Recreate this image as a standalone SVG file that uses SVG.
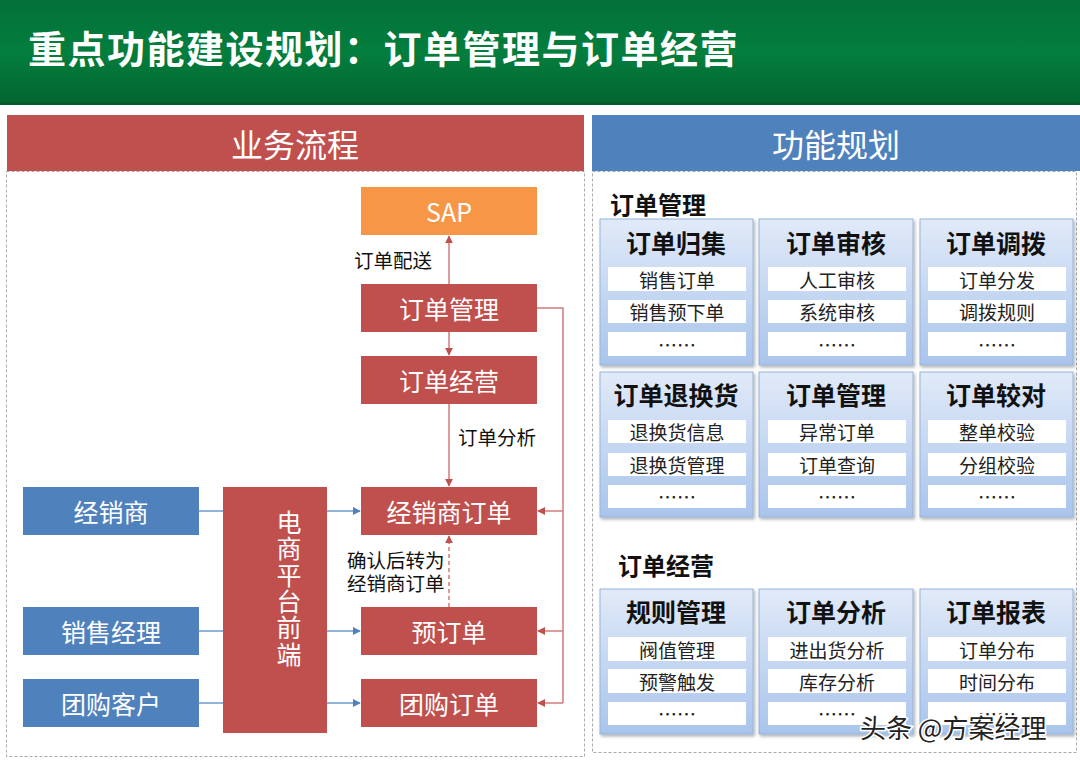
<svg xmlns="http://www.w3.org/2000/svg" width="1080" height="764" viewBox="0 0 1080 764">
<defs>
<linearGradient id="hdr" x1="0" y1="0" x2="0" y2="1">
<stop offset="0" stop-color="#04703A"/>
<stop offset="0.5" stop-color="#037E3D"/>
<stop offset="1" stop-color="#036531"/>
</linearGradient>
<linearGradient id="card" x1="0" y1="0" x2="0" y2="1">
<stop offset="0" stop-color="#E1EAF8"/>
<stop offset="1" stop-color="#A9C4EC"/>
</linearGradient>
<filter id="sh" x="-10%" y="-10%" width="125%" height="125%">
<feDropShadow dx="1.5" dy="2" stdDeviation="1.5" flood-color="#000" flood-opacity="0.3"/>
</filter>
<marker id="ar" viewBox="0 0 10 10" refX="9" refY="5" markerWidth="8" markerHeight="8" orient="auto" markerUnits="userSpaceOnUse">
<path d="M0,0 L10,5 L0,10 z" fill="#C0504D"/>
</marker>
<marker id="ab" viewBox="0 0 10 10" refX="9" refY="5" markerWidth="8" markerHeight="8" orient="auto" markerUnits="userSpaceOnUse">
<path d="M0,0 L10,5 L0,10 z" fill="#4F81BD"/>
</marker>
</defs>
<style>
text{font-family:"Noto Sans CJK SC","Liberation Sans",sans-serif;}
.red{fill:#C0504D;}
.blue{fill:#4F81BD;}
.wt{fill:#fff;font-size:25px;text-anchor:middle;dominant-baseline:central;}
.hd{fill:#fff;font-size:32px;text-anchor:middle;dominant-baseline:central;}
.vt{fill:#fff;font-size:25px;text-anchor:middle;writing-mode:vertical-rl;letter-spacing:1.4px;}
.lbl{fill:#111;font-size:19.5px;}
.rl{stroke:#D4797A;stroke-width:1.5;fill:none;}
.bl{stroke:#6E9BD1;stroke-width:1.5;fill:none;}
.card{fill:url(#card);stroke:#95B3D7;stroke-width:1;filter:url(#sh);}
.ct{font-size:25px;font-weight:bold;fill:#111;text-anchor:middle;dominant-baseline:central;}
.sub{fill:#fff;}
.st{font-size:19px;fill:#222;text-anchor:middle;dominant-baseline:central;}
.sec{font-size:24px;font-weight:bold;fill:#111;dominant-baseline:central;}
.dash{fill:none;stroke:#AAAAAA;stroke-width:1;stroke-dasharray:3,2;}
</style>
<rect width="1080" height="764" fill="#fff"/>
<g id="header">
<rect x="0" y="0" width="1080" height="104" fill="url(#hdr)"/>
<rect x="0" y="102" width="1080" height="3" fill="#035A2B"/>
<text x="28" y="63" font-size="38" font-weight="bold" fill="#fff" letter-spacing="1.5">重点功能建设规划：订单管理与订单经营</text>
</g>
<g id="left-panel">
<rect class="dash" x="6.5" y="171.5" width="578" height="585"/>
<rect x="7" y="115" width="577" height="56" class="red"/>
<text x="295" y="143" class="hd">业务流程</text>
</g>
<g id="right-panel">
<rect class="dash" x="592.5" y="171.5" width="484" height="581"/>
<rect x="592" y="115" width="488" height="56" class="blue"/>
<text x="836" y="143" class="hd">功能规划</text>
</g>
<g id="connectors">
<line class="rl" x1="449" y1="284" x2="449" y2="236" marker-end="url(#ar)"/>
<line class="rl" x1="449" y1="332" x2="449" y2="355" marker-end="url(#ar)"/>
<line class="rl" x1="449" y1="404" x2="449" y2="486" marker-end="url(#ar)"/>
<line class="rl" x1="449" y1="607" x2="449" y2="536" stroke-dasharray="4,3" marker-end="url(#ar)"/>
<polyline class="rl" points="537,308 563,308 563,703"/>
<line class="rl" x1="563" y1="511" x2="538" y2="511" marker-end="url(#ar)"/>
<line class="rl" x1="563" y1="631" x2="538" y2="631" marker-end="url(#ar)"/>
<line class="rl" x1="563" y1="703" x2="538" y2="703" marker-end="url(#ar)"/>
<line class="bl" x1="199" y1="511" x2="223" y2="511"/>
<line class="bl" x1="199" y1="631" x2="223" y2="631"/>
<line class="bl" x1="199" y1="703" x2="223" y2="703"/>
<line class="bl" x1="327" y1="511" x2="360" y2="511" marker-end="url(#ab)"/>
<line class="bl" x1="327" y1="631" x2="360" y2="631" marker-end="url(#ab)"/>
<line class="bl" x1="327" y1="703" x2="360" y2="703" marker-end="url(#ab)"/>
<text class="lbl" x="354" y="268">订单配送</text>
<text class="lbl" x="458" y="445">订单分析</text>
<text class="lbl" x="347" y="568">确认后转为<tspan x="347" dy="23">经销商订单</tspan></text>
</g>
<g id="sap"><rect x="361" y="187" width="176" height="48" fill="#F79646"/><text class="wt" x="449" y="211">SAP</text></g>
<g id="order-mgmt"><rect x="361" y="284" width="176" height="48" class="red"/><text class="wt" x="449" y="308">订单管理</text></g>
<g id="order-ops"><rect x="361" y="356" width="176" height="48" class="red"/><text class="wt" x="449" y="380">订单经营</text></g>
<g id="dealer-order"><rect x="361" y="487" width="176" height="48" class="red"/><text class="wt" x="449" y="511">经销商订单</text></g>
<g id="pre-order"><rect x="361" y="607" width="176" height="48" class="red"/><text class="wt" x="449" y="631">预订单</text></g>
<g id="group-order"><rect x="361" y="679" width="176" height="48" class="red"/><text class="wt" x="449" y="703">团购订单</text></g>
<g id="frontend"><rect x="223" y="487" width="104" height="246" class="red"/>
<text class="vt" x="289" y="589">电商平台前端</text>
</g>
<g id="dealer"><rect x="23" y="487" width="176" height="48" class="blue"/><text class="wt" x="111" y="511">经销商</text></g>
<g id="sales-mgr"><rect x="23" y="607" width="176" height="48" class="blue"/><text class="wt" x="111" y="631">销售经理</text></g>
<g id="group-cust"><rect x="23" y="679" width="176" height="48" class="blue"/><text class="wt" x="111" y="703">团购客户</text></g>

<text class="sec" x="610" y="203">订单管理</text>
<text class="sec" x="618" y="564">订单经营</text>

<g id="card-collect"><rect class="card" x="600" y="219" width="153" height="146"/><text class="ct" x="676" y="242">订单归集</text>
<rect class="sub" x="608" y="267" width="138" height="24"/><text class="st" x="677" y="279">销售订单</text>
<rect class="sub" x="608" y="300" width="138" height="23"/><text class="st" x="677" y="311">销售预下单</text>
<rect class="sub" x="608" y="332" width="138" height="24"/><text class="st" x="677" y="344">……</text></g>
<g id="card-review"><rect class="card" x="759" y="219" width="154" height="146"/><text class="ct" x="836" y="242">订单审核</text>
<rect class="sub" x="768" y="267" width="138" height="24"/><text class="st" x="837" y="279">人工审核</text>
<rect class="sub" x="768" y="300" width="138" height="23"/><text class="st" x="837" y="311">系统审核</text>
<rect class="sub" x="768" y="332" width="138" height="24"/><text class="st" x="837" y="344">……</text></g>
<g id="card-allot"><rect class="card" x="920" y="219" width="153" height="146"/><text class="ct" x="996" y="242">订单调拨</text>
<rect class="sub" x="928" y="267" width="138" height="24"/><text class="st" x="997" y="279">订单分发</text>
<rect class="sub" x="928" y="300" width="138" height="23"/><text class="st" x="997" y="311">调拨规则</text>
<rect class="sub" x="928" y="332" width="138" height="24"/><text class="st" x="997" y="344">……</text></g>

<g id="card-return"><rect class="card" x="600" y="372" width="153" height="145"/><text class="ct" x="676" y="394">订单退换货</text>
<rect class="sub" x="608" y="420" width="138" height="23"/><text class="st" x="677" y="431">退换货信息</text>
<rect class="sub" x="608" y="453" width="138" height="23"/><text class="st" x="677" y="464">退换货管理</text>
<rect class="sub" x="608" y="485" width="138" height="23"/><text class="st" x="677" y="496">……</text></g>
<g id="card-manage"><rect class="card" x="759" y="372" width="154" height="145"/><text class="ct" x="836" y="394">订单管理</text>
<rect class="sub" x="768" y="420" width="138" height="23"/><text class="st" x="837" y="431">异常订单</text>
<rect class="sub" x="768" y="453" width="138" height="23"/><text class="st" x="837" y="464">订单查询</text>
<rect class="sub" x="768" y="485" width="138" height="23"/><text class="st" x="837" y="496">……</text></g>
<g id="card-check"><rect class="card" x="920" y="372" width="153" height="145"/><text class="ct" x="996" y="394">订单较对</text>
<rect class="sub" x="928" y="420" width="138" height="23"/><text class="st" x="997" y="431">整单校验</text>
<rect class="sub" x="928" y="453" width="138" height="23"/><text class="st" x="997" y="464">分组校验</text>
<rect class="sub" x="928" y="485" width="138" height="23"/><text class="st" x="997" y="496">……</text></g>

<g id="card-rules"><rect class="card" x="600" y="589" width="153" height="145"/><text class="ct" x="676" y="611">规则管理</text>
<rect class="sub" x="608" y="637" width="138" height="24"/><text class="st" x="677" y="649">阀值管理</text>
<rect class="sub" x="608" y="669" width="138" height="24"/><text class="st" x="677" y="681">预警触发</text>
<rect class="sub" x="608" y="702" width="138" height="23"/><text class="st" x="677" y="713">……</text></g>
<g id="card-analysis"><rect class="card" x="759" y="589" width="154" height="145"/><text class="ct" x="836" y="611">订单分析</text>
<rect class="sub" x="768" y="637" width="138" height="24"/><text class="st" x="837" y="649">进出货分析</text>
<rect class="sub" x="768" y="669" width="138" height="24"/><text class="st" x="837" y="681">库存分析</text>
<rect class="sub" x="768" y="702" width="138" height="23"/><text class="st" x="837" y="713">……</text></g>
<g id="card-report"><rect class="card" x="920" y="589" width="153" height="145"/><text class="ct" x="996" y="611">订单报表</text>
<rect class="sub" x="928" y="637" width="138" height="24"/><text class="st" x="997" y="649">订单分布</text>
<rect class="sub" x="928" y="669" width="138" height="24"/><text class="st" x="997" y="681">时间分布</text>
<rect class="sub" x="928" y="702" width="138" height="23"/><text class="st" x="997" y="713">……</text></g>

<g id="watermark">
<text x="860" y="738" font-size="26" fill="#222" stroke="#fff" stroke-width="3" paint-order="stroke">头条 @方案经理</text>
</g>
</svg>
